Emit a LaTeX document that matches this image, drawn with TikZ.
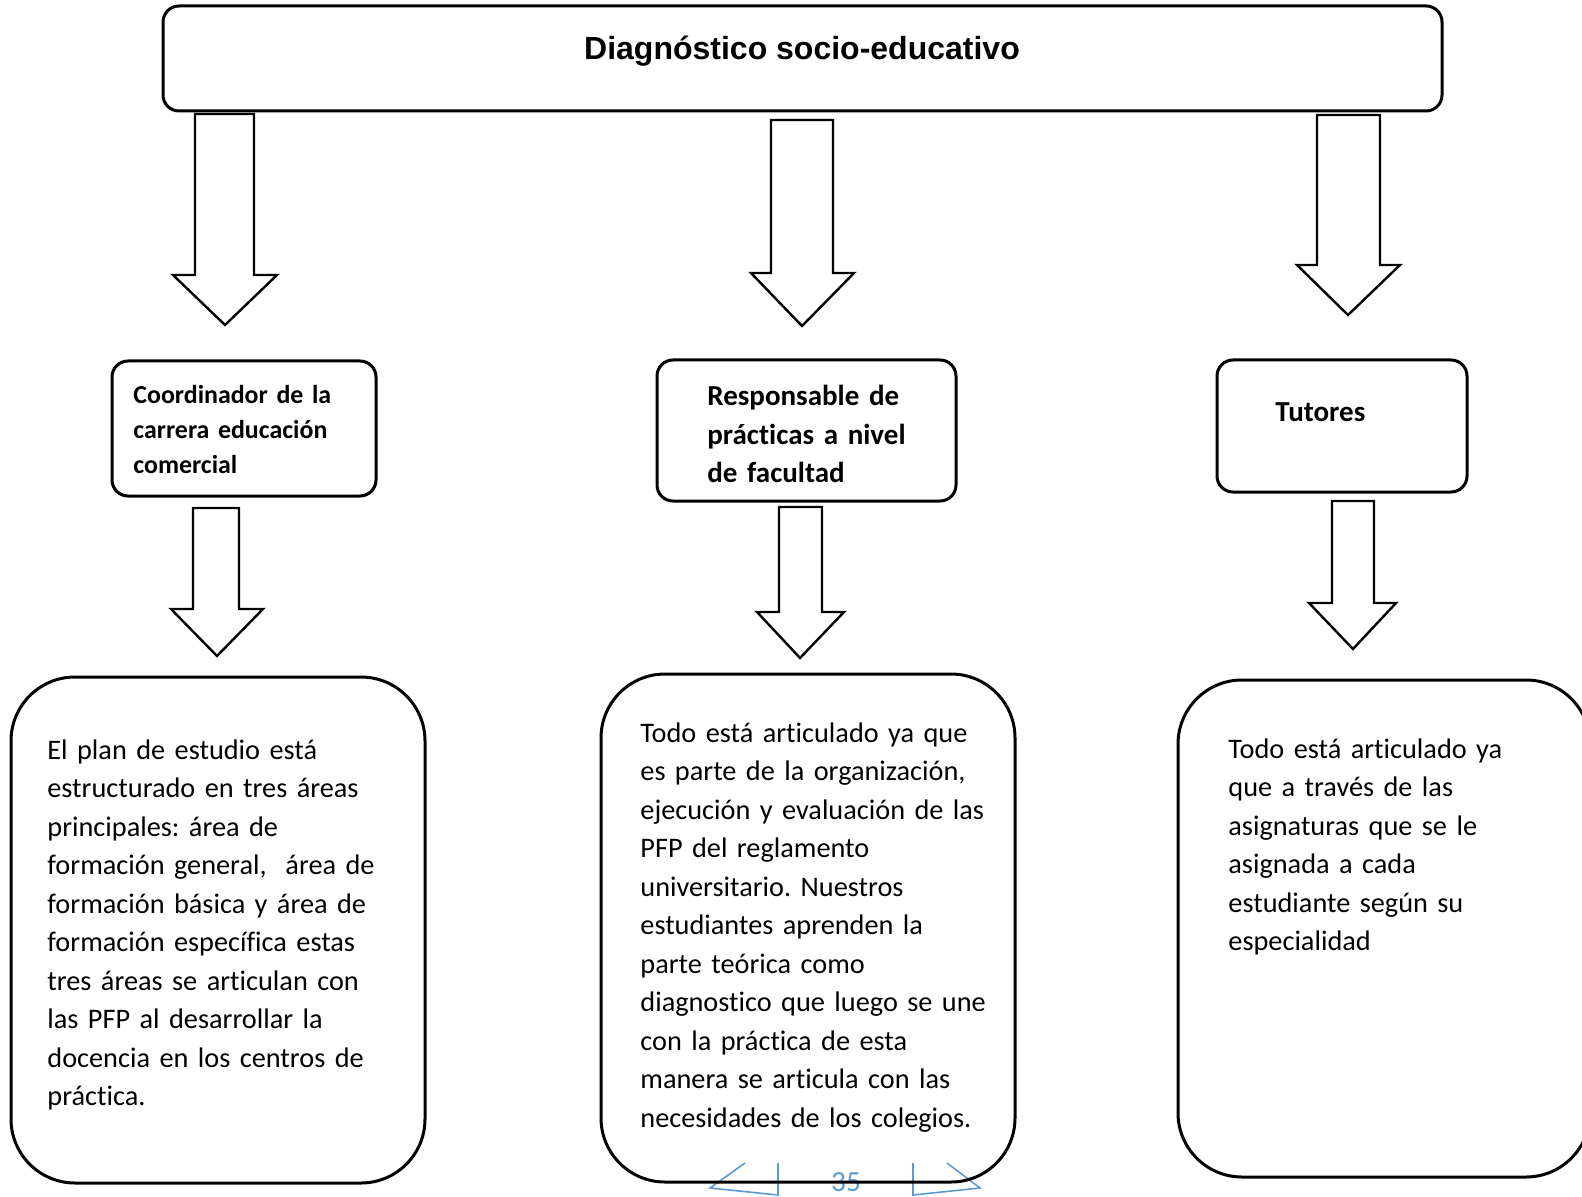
\documentclass[tikz,border=0pt]{standalone}
\usepackage{fontspec}
\setmainfont{Carlito}[Ligatures=CommonOff]
\newfontfamily\arialfont{Liberation Sans}
\definecolor{pgblue}{RGB}{91,155,213}
\frenchspacing
\begin{document}
\begin{tikzpicture}[x=0.5pt,y=-0.5pt,
  boxline/.style={draw=black,line width=1.5pt},
  smallbox/.style={boxline,rounded corners=8pt},
  bigbox/.style={boxline,rounded corners=32pt},
  blockarrow/.style={draw=black,line width=1.2pt,fill=white,line join=miter},
  bodytext/.style={anchor=base west,inner sep=0pt,text width=240pt,align=left,
    font=\frenchspacing\fontsize{14.15}{19.25}\selectfont},
  labeltext/.style={anchor=base west,inner sep=0pt,text width=160pt,align=left,
    font=\bfseries\fontsize{14.5}{19.15}\selectfont},
  pageline/.style={draw=pgblue,line width=0.8pt}]
\useasboundingbox (0,0) rectangle (1582,1197);
\clip (0,0) rectangle (1582,1197);

% page number footer
\draw[pageline] (745,1163) -- (710,1188) -- (778,1195) -- (778,1163);
\draw[pageline] (947,1163) -- (980,1188) -- (913,1195) -- (913,1163);
\node[anchor=base,inner sep=0pt,text=pgblue,font=\fontsize{14.6}{17}\selectfont] (pagenum) at (846,1191) {35};

% title box
\draw[smallbox] (163,6) rectangle (1442,111);
\node[anchor=base,inner sep=0pt,font=\arialfont\bfseries\fontsize{16}{19}\selectfont] (title) at (802,60) {Diagnóstico socio-educativo};

% top arrows
\draw[blockarrow] (195,114) -- (254,114) -- (254,275) -- (277,275) -- (225,325) -- (173,275) -- (195,275) -- cycle;
\draw[blockarrow] (771,120) -- (833,120) -- (833,273) -- (854,273) -- (802,326) -- (751,273) -- (771,273) -- cycle;
\draw[blockarrow] (1317,115) -- (1380,115) -- (1380,265) -- (1400,265) -- (1348,315) -- (1297,265) -- (1317,265) -- cycle;

% second level boxes
\draw[smallbox] (112,361) rectangle (376,496);
\node[labeltext,font=\bfseries\fontsize{12.95}{17.65}\selectfont] (coord) at (133,403)
  {Coordinador de la\\carrera educación\\comercial};
\draw[smallbox] (657,360) rectangle (956,501);
\node[labeltext] (resp) at (707,406) {Responsable de\\prácticas a nivel\\de facultad};
\draw[smallbox] (1217,360) rectangle (1467,492);
\node[labeltext] (tut) at (1275,422) {Tutores};

% lower arrows
\draw[blockarrow] (193,508) -- (239,508) -- (239,609) -- (263,609) -- (217,656) -- (171,609) -- (193,609) -- cycle;
\draw[blockarrow] (779,507) -- (822,507) -- (822,612) -- (844,612) -- (800,658) -- (757,612) -- (779,612) -- cycle;
\draw[blockarrow] (1332,501) -- (1374,501) -- (1374,603) -- (1396,603) -- (1353,649) -- (1309,603) -- (1332,603) -- cycle;

% bottom boxes
\draw[bigbox] (11,677) rectangle (425,1183);
\node[bodytext] (plan) at (47,759) {El plan de estudio está\\estructurado en tres áreas\\principales: área de\\formación general,\ \ área de\\formación básica y área de\\formación específica estas\\tres áreas se articulan con\\las PFP al desarrollar la\\docencia en los centros de\\práctica.};

\draw[bigbox] (601,674) rectangle (1015,1182);
\node[bodytext] (todo) at (640,742) {Todo está articulado ya que\\es parte de la organización,\\ejecución y evaluación de las\\PFP del reglamento\\universitario. Nuestros\\estudiantes aprenden la\\parte teórica como\\diagnostico que luego se une\\con la práctica de esta\\manera se articula con las\\necesidades de los colegios.};

\draw[bigbox] (1178,680) rectangle (1590,1177);
\node[bodytext] (tutores) at (1228,758) {Todo está articulado ya\\que a través de las\\asignaturas que se le\\asignada a cada\\estudiante según su\\especialidad};
\end{tikzpicture}
\end{document}
